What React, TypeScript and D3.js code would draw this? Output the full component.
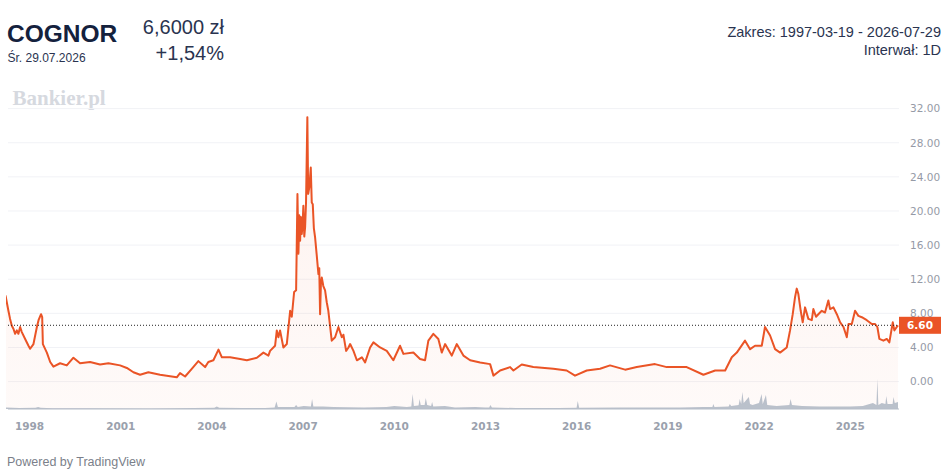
import React from "react";
import * as d3 from "d3";

const W = 948;
const H = 469;

const priceDates = [
  "1997-03-19","1997-04-23","1997-05-13","1997-06-03","1997-06-22","1997-07-13","1997-08-02","1997-08-21","1997-09-11","1997-10-01",
  "1997-11-10","1997-12-20","1998-01-09","1998-02-18","1998-03-31","1998-04-20","1998-05-20","1998-06-03","1998-06-11","1998-07-29",
  "1998-09-07","1998-10-16","1999-01-04","1999-03-25","1999-06-13","1999-09-01","1999-12-30","2000-04-28","2000-08-07","2000-12-25",
  "2001-03-16","2001-06-03","2001-08-22","2001-11-30","2002-04-19","2002-11-06","2002-12-15","2003-02-14","2003-05-05","2003-07-23",
  "2003-10-12","2003-11-20","2004-01-20","2004-03-21","2004-05-01","2004-08-08","2004-12-06","2005-02-25","2005-06-25","2005-09-12",
  "2005-11-11","2005-12-01","2006-01-30","2006-02-20","2006-03-11","2006-03-31","2006-05-10","2006-06-20","2006-07-30","2006-08-19",
  "2006-09-16","2006-10-10","2006-10-26","2006-11-07","2006-11-17","2006-11-27","2006-12-06","2006-12-17","2006-12-27","2007-01-05",
  "2007-01-16","2007-01-26","2007-02-06","2007-02-22","2007-03-04","2007-03-18","2007-04-04","2007-04-16","2007-04-28","2007-05-11",
  "2007-05-26","2007-06-13","2007-07-05","2007-07-15","2007-07-25","2007-08-04","2007-08-14","2007-09-02","2007-09-23","2007-10-13",
  "2007-11-01","2007-11-22","2007-12-12","2008-01-21","2008-03-01","2008-04-11","2008-04-30","2008-06-02","2008-06-30","2008-07-20",
  "2008-08-29","2008-10-09","2008-12-08","2009-01-16","2009-03-17","2009-04-26","2009-07-15","2009-10-03","2009-12-21","2010-03-12",
  "2010-04-21","2010-08-19","2010-11-07","2011-01-06","2011-02-15","2011-04-16","2011-06-15","2011-07-26","2011-09-04","2011-11-23",
  "2012-01-22","2012-04-11","2012-07-01","2012-10-29","2013-02-26","2013-04-07","2013-06-26","2013-10-24","2013-12-03","2014-03-13",
  "2014-07-30","2015-03-28","2015-09-04","2015-12-13","2016-05-02","2016-10-09","2017-02-06","2017-08-06","2017-12-24","2018-07-31",
  "2018-12-19","2019-08-16","2020-03-04","2020-07-23","2020-11-20","2021-02-08","2021-04-09","2021-07-17","2021-09-16","2021-11-14",
  "2022-02-03","2022-03-14","2022-05-14","2022-07-13","2022-09-11","2022-11-30","2023-01-09","2023-02-10","2023-03-10","2023-03-30",
  "2023-04-18","2023-05-17","2023-06-10","2023-07-08","2023-08-17","2023-09-27","2023-10-16","2023-11-17","2023-12-15","2024-01-25",
  "2024-03-04","2024-04-13","2024-05-04","2024-06-13","2024-07-24","2024-09-02","2024-10-12","2024-11-21","2024-12-11","2025-01-20",
  "2025-02-28","2025-04-09","2025-05-20","2025-07-19","2025-09-17","2025-10-27","2025-11-23","2025-12-17","2026-02-04","2026-03-16",
  "2026-04-16","2026-05-27","2026-06-15","2026-07-14","2026-07-29",
];

const priceValues = [
  10.1, 8.3, 7.35, 6.55, 6.2, 5.6, 6.0, 5.6, 6.4, 5.8,
  5.0, 4.2, 3.85, 4.4, 6.4, 7.2, 7.9, 7.55, 4.4, 3.4,
  2.3, 1.75, 2.15, 1.9, 2.8, 2.15, 2.3, 2.0, 2.15, 1.9,
  1.6, 1.1, 0.8, 1.1, 0.8, 0.5, 1.0, 0.6, 1.5, 2.4,
  1.7, 2.3, 2.5, 3.75, 2.85, 2.85, 2.65, 2.5, 2.8, 3.4,
  3.05, 3.6, 4.2, 6.0, 5.2, 6.0, 4.0, 4.4, 8.3, 7.6,
  10.5, 10.7, 22.0, 15.0, 19.5, 16.5, 19.3, 17.3, 18.5, 20.6,
  17.0, 18.1, 21.0, 31.0, 22.0, 22.8, 25.1, 21.0, 20.8, 18.0,
  16.9, 15.0, 12.6, 13.3, 7.9, 11.5, 12.2, 11.2, 10.7, 9.3,
  8.3, 6.5, 4.8, 5.2, 6.4, 5.2, 5.5, 3.6, 4.0, 4.4,
  3.6, 2.5, 2.85, 2.25, 4.0, 4.6, 4.0, 3.6, 2.5, 4.2,
  3.25, 3.4, 2.65, 2.5, 4.8, 5.6, 5.0, 3.4, 4.4, 3.05,
  4.4, 3.05, 2.5, 2.25, 2.05, 0.7, 1.3, 1.7, 1.3, 2.0,
  1.7, 1.5, 1.3, 0.7, 1.3, 1.5, 1.9, 1.4, 1.7, 2.05,
  1.7, 1.7, 0.8, 1.3, 1.3, 2.85, 3.4, 4.8, 3.8, 4.2,
  4.2, 6.4, 5.4, 3.8, 3.4, 4.0, 6.0, 7.9, 9.9, 10.9,
  10.3, 8.3, 6.95, 8.7, 7.35, 7.2, 8.5, 7.6, 7.9, 8.3,
  8.1, 9.5, 8.5, 8.7, 7.9, 6.95, 6.4, 5.2, 6.75, 6.75,
  8.3, 7.7, 7.55, 7.2, 6.75, 6.75, 6.4, 5.0, 4.8, 5.0,
  4.6, 6.95, 6.0, 6.4, 6.6,
];

const volumeDates = [
  "1997-03-19","1997-09-01","1998-03-15","1998-04-15","1998-05-15","1998-10-01","2000-01-01","2002-01-01","2003-06-01","2004-02-01",
  "2004-03-01","2004-04-01","2005-01-01","2005-10-01","2006-01-25","2006-02-15","2006-03-05","2006-07-01","2006-09-20","2006-10-10",
  "2006-10-30","2007-01-10","2007-04-05","2007-04-20","2007-05-05","2007-09-01","2008-01-01","2009-01-01","2009-10-01","2010-01-01",
  "2010-06-01","2010-07-25","2010-08-10","2010-08-25","2010-10-20","2010-11-01","2010-11-15","2011-01-01","2011-01-15","2011-02-01",
  "2011-03-20","2011-04-01","2011-04-15","2011-09-01","2012-01-01","2012-09-01","2013-01-01","2013-02-15","2013-03-01","2013-03-20",
  "2014-01-01","2015-06-01","2016-01-01","2016-01-15","2016-02-01","2017-06-01","2018-06-01","2019-06-01","2020-03-01","2020-06-20",
  "2020-07-01","2020-07-15","2021-01-01","2021-01-15","2021-02-01","2021-05-01","2021-05-15","2021-06-01","2021-06-15","2021-07-01",
  "2021-09-01","2021-09-15","2021-10-15","2022-01-01","2022-02-01","2022-02-15","2022-03-25","2022-04-10","2022-08-01","2023-01-01",
  "2023-01-15","2023-02-01","2023-06-01","2024-01-01","2024-06-01","2025-01-01","2025-06-01","2025-10-01","2025-11-12","2025-11-23",
  "2025-12-05","2026-01-15","2026-02-28","2026-03-10","2026-03-25","2026-05-25","2026-06-05","2026-06-20","2026-07-29",
];

const volumeValues = [
  150, 100, 120, 200, 120, 80, 70, 50, 100, 120,
  250, 120, 100, 100, 150, 750, 200, 200, 200, 400,
  200, 300, 250, 1000, 250, 250, 200, 150, 200, 300,
  200, 250, 1500, 300, 350, 1000, 400, 400, 1100, 400,
  300, 700, 250, 300, 150, 200, 150, 150, 400, 150,
  100, 100, 120, 800, 120, 150, 150, 150, 200, 200,
  500, 200, 250, 500, 300, 400, 1000, 500, 1700, 600,
  1200, 500, 400, 600, 1500, 500, 1400, 400, 300, 400,
  1000, 400, 300, 250, 250, 250, 300, 600, 400, 3000,
  400, 600, 500, 1300, 500, 500, 1200, 600, 700,
];

const yTicks = [0, 4, 8, 12, 16, 20, 24, 28, 32];
const xTickYears = [1998, 2001, 2004, 2007, 2010, 2013, 2016, 2019, 2022, 2025];
const lastPrice = 6.6;

const tickerName = "COGNOR";
const sessionDate = "Śr. 29.07.2026";
const priceText = "6,6000 zł";
const changeText = "+1,54%";
const rangeText = "Zakres: 1997-03-19 - 2026-07-29";
const intervalText = "Interwał: 1D";

const parse = d3.timeParse("%Y-%m-%d");

export default function App() {
  const prices = priceDates.map((d, i) => ({ date: parse(d) as Date, value: priceValues[i] }));
  const volumes = volumeDates.map((d, i) => ({ date: parse(d) as Date, value: volumeValues[i] }));

  const paneLeft = 8;
  const paneRight = 899;
  const volBase = 409;

  const x = d3
    .scaleTime()
    .domain([parse(priceDates[0]) as Date, parse(priceDates[priceDates.length - 1]) as Date])
    .range([5.5, 898]);
  const y = d3.scaleLinear().domain([0, 32]).range([381.6, 108.6]);
  const yv = d3.scaleLinear().domain([0, 3400]).range([volBase, volBase - 34]);

  const line = d3
    .line<{ date: Date; value: number }>()
    .x((d) => x(d.date))
    .y((d) => y(d.value));
  const area = d3
    .area<{ date: Date; value: number }>()
    .x((d) => x(d.date))
    .y0(volBase)
    .y1((d) => y(d.value));
  const volArea = d3
    .area<{ date: Date; value: number }>()
    .x((d) => x(d.date))
    .y0(volBase)
    .y1((d) => yv(d.value));

  const fmt = d3.format(".2f");
  const axisFont = "'DejaVu Sans', Verdana, sans-serif";
  const headFont = "'Liberation Sans', Arial, sans-serif";
  const orange = "#ea5426";
  const lastY = y(lastPrice);

  return (
    <svg
      width={W}
      height={H}
      viewBox={`0 0 ${W} ${H}`}
      style={{ position: "absolute", left: 0, top: 0, background: "#fff" }}
    >
      <defs>
        <linearGradient id="fillGrad" x1="0" y1="0" x2="0" y2="1">
          <stop offset="0%" stopColor={orange} stopOpacity={0.08} />
          <stop offset="100%" stopColor={orange} stopOpacity={0.03} />
        </linearGradient>
        <clipPath id="pane">
          <rect x={paneLeft - 2} y={95} width={paneRight - paneLeft + 2} height={320} />
        </clipPath>
      </defs>

      {/* header */}
      <text x={7} y={41.5} fontFamily={headFont} fontWeight="bold" fontSize={24.5} fill="#14213d">
        {tickerName}
      </text>
      <text x={7.5} y={61.5} fontFamily={headFont} fontSize={12} fill="#2a3450">
        {sessionDate}
      </text>
      <text x={224} y={34} textAnchor="end" fontFamily={headFont} fontSize={20} fill="#2a3450">
        {priceText}
      </text>
      <text x={224} y={59.5} textAnchor="end" fontFamily={headFont} fontSize={20} fill="#2a3450">
        {changeText}
      </text>
      <text x={941} y={36.5} textAnchor="end" fontFamily={headFont} fontSize={14.5} fill="#2a3450">
        {rangeText}
      </text>
      <text x={941} y={54.5} textAnchor="end" fontFamily={headFont} fontSize={14.5} fill="#2a3450">
        {intervalText}
      </text>

      {/* watermark */}
      <text x={12.5} y={104.5} fontFamily="'Liberation Serif', 'DejaVu Serif', serif" fontWeight="bold" fontSize={21} fill="#d6d9df">
        Bankier.pl
      </text>

      {/* grid */}
      {yTicks.map((t) => (
        <line key={t} x1={paneLeft} x2={paneRight} y1={y(t)} y2={y(t)} stroke="#f1f2f6" strokeWidth={1} />
      ))}

      <g clipPath="url(#pane)">
        <path d={area(prices) || ""} fill="url(#fillGrad)" />
        <path d={volArea(volumes) || ""} fill="#aeb6c3" opacity={0.85} />
        <line x1={paneLeft} x2={paneRight} y1={volBase} y2={volBase} stroke="#b6bdc8" strokeWidth={1} />
        <path d={line(prices) || ""} fill="none" stroke={orange} strokeWidth={2} strokeLinejoin="round" />
      </g>

      {/* last price dotted line */}
      <line x1={paneLeft} x2={paneRight} y1={lastY} y2={lastY} stroke="#222" strokeWidth={1} strokeDasharray="1 2" />

      {/* y axis labels */}
      {yTicks.map((t) => (
        <text key={t} x={910} y={y(t)} dy="0.36em" fontFamily={axisFont} fontSize={10.5} fill="#959aa6">
          {fmt(t)}
        </text>
      ))}

      {/* last price label */}
      <rect x={899} y={lastY - 8.5} width={42} height={17} fill={orange} />
      <text x={920} y={lastY} dy="0.36em" textAnchor="middle" fontFamily={axisFont} fontWeight="bold" fontSize={10.5} fill="#fff">
        {fmt(lastPrice)}
      </text>

      {/* x axis labels */}
      {xTickYears.map((yr) => (
        <text
          key={yr}
          x={x(new Date(yr, 0, 2))}
          y={430}
          textAnchor="middle"
          fontFamily={axisFont}
          fontWeight="bold"
          fontSize={10.5}
          fill="#9aa1ad"
        >
          {yr}
        </text>
      ))}

      <text x={7} y={466} fontFamily={headFont} fontSize={12.5} fill="#7b7f8a">
        Powered by TradingView
      </text>
    </svg>
  );
}
